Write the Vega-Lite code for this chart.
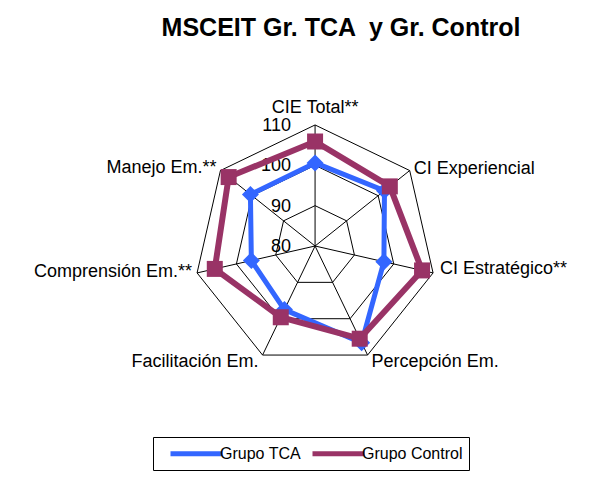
{
  "$schema": "https://vega.github.io/schema/vega-lite/v6.json",
  "width": 612,
  "height": 418,
  "autosize": "none",
  "padding": {"top": 60, "left": 0, "right": 0, "bottom": 0},
  "background": "white",
  "config": {"view": {"stroke": null}, "font": "Liberation Sans"},
  "title": {"text": "MSCEIT Gr. TCA \u00a0y Gr. Control", "fontSize": 25, "fontWeight": "bold", "font": "Liberation Sans", "color": "#000000", "dx": 35, "offset": -1, "baseline": "alphabetic", "anchor": "middle"},
  "datasets": {
    "scores": [
      {"cat": "CIE Total**", "k": 0, "group": "Grupo TCA", "value": 100.6},
      {"cat": "CI Experiencial", "k": 1, "group": "Grupo TCA", "value": 102.0},
      {"cat": "CI Estratégico**", "k": 2, "group": "Grupo TCA", "value": 97.5},
      {"cat": "Percepción Em.", "k": 3, "group": "Grupo TCA", "value": 106.6},
      {"cat": "Facilitación Em.", "k": 4, "group": "Grupo TCA", "value": 97.5},
      {"cat": "Comprensión Em.**", "k": 5, "group": "Grupo TCA", "value": 96.2},
      {"cat": "Manejo Em.**", "k": 6, "group": "Grupo TCA", "value": 100.5},
      {"cat": "CIE Total**", "k": 0, "group": "Grupo Control", "value": 105.9},
      {"cat": "CI Experiencial", "k": 1, "group": "Grupo Control", "value": 103.7},
      {"cat": "CI Estratégico**", "k": 2, "group": "Grupo Control", "value": 107.2},
      {"cat": "Percepción Em.", "k": 3, "group": "Grupo Control", "value": 105.5},
      {"cat": "Facilitación Em.", "k": 4, "group": "Grupo Control", "value": 99.6},
      {"cat": "Comprensión Em.**", "k": 5, "group": "Grupo Control", "value": 105.5},
      {"cat": "Manejo Em.**", "k": 6, "group": "Grupo Control", "value": 107.4}
    ],
    "cats": [
      {"cat": "CIE Total**", "k": 0},
      {"cat": "CI Experiencial", "k": 1},
      {"cat": "CI Estratégico**", "k": 2},
      {"cat": "Percepción Em.", "k": 3},
      {"cat": "Facilitación Em.", "k": 4},
      {"cat": "Comprensión Em.**", "k": 5},
      {"cat": "Manejo Em.**", "k": 6}
    ],
    "grid": [
      {"level": 90, "k": 0}, {"level": 90, "k": 1}, {"level": 90, "k": 2}, {"level": 90, "k": 3}, {"level": 90, "k": 4}, {"level": 90, "k": 5}, {"level": 90, "k": 6},
      {"level": 100, "k": 0}, {"level": 100, "k": 1}, {"level": 100, "k": 2}, {"level": 100, "k": 3}, {"level": 100, "k": 4}, {"level": 100, "k": 5}, {"level": 100, "k": 6},
      {"level": 110, "k": 0}, {"level": 110, "k": 1}, {"level": 110, "k": 2}, {"level": 110, "k": 3}, {"level": 110, "k": 4}, {"level": 110, "k": 5}, {"level": 110, "k": 6}
    ],
    "ticks": [
      {"level": 80, "lbl": "80"},
      {"level": 90, "lbl": "90"},
      {"level": 100, "lbl": "100"},
      {"level": 110, "lbl": "110"}
    ]
  },
  "layer": [
    {
      "data": {"name": "grid"},
      "transform": [
        {"calculate": "datum.k*2*PI/7", "as": "a"},
        {"calculate": "(datum.level-80)*sin(datum.a)", "as": "px"},
        {"calculate": "(datum.level-80)*cos(datum.a)", "as": "py"}
      ],
      "mark": {"type": "line", "interpolate": "linear-closed", "color": "#000000", "strokeWidth": 1},
      "encoding": {
        "x": {"field": "px", "type": "quantitative", "scale": {"domain": [-78.1, 73.6], "nice": false, "zero": false}, "axis": null},
        "y": {"field": "py", "type": "quantitative", "scale": {"domain": [-57.5, 46.1], "nice": false, "zero": false}, "axis": null},
        "detail": {"field": "level", "type": "nominal"},
        "order": {"field": "k", "type": "quantitative"}
      }
    },
    {
      "data": {"name": "cats"},
      "transform": [
        {"calculate": "datum.k*2*PI/7", "as": "a"},
        {"calculate": "30*sin(datum.a)", "as": "ox"},
        {"calculate": "30*cos(datum.a)", "as": "oy"},
        {"calculate": "0", "as": "z"}
      ],
      "mark": {"type": "rule", "color": "#000000", "strokeWidth": 1},
      "encoding": {
        "x": {"field": "z", "type": "quantitative", "scale": {"domain": [-78.1, 73.6], "nice": false, "zero": false}, "axis": null},
        "y": {"field": "z", "type": "quantitative", "scale": {"domain": [-57.5, 46.1], "nice": false, "zero": false}, "axis": null},
        "x2": {"field": "ox"},
        "y2": {"field": "oy"}
      }
    },
    {
      "data": {"name": "ticks"},
      "transform": [{"calculate": "datum.level-80", "as": "r"}, {"calculate": "0", "as": "z"}],
      "mark": {"type": "text", "align": "right", "baseline": "middle", "dx": -24, "dy": 1, "fontSize": 18, "font": "Liberation Sans", "color": "#000000"},
      "encoding": {
        "x": {"field": "z", "type": "quantitative", "scale": {"domain": [-78.1, 73.6], "nice": false, "zero": false}, "axis": null},
        "y": {"field": "r", "type": "quantitative", "scale": {"domain": [-57.5, 46.1], "nice": false, "zero": false}, "axis": null},
        "text": {"field": "lbl", "type": "nominal"}
      }
    },
    {
      "data": {"name": "cats"},
      "transform": [
        {"calculate": "datum.k*2*PI/7", "as": "a"},
        {"calculate": "30*sin(datum.a)", "as": "ox"},
        {"calculate": "30*cos(datum.a)", "as": "oy"}
      ],
      "mark": {
        "type": "text",
        "baseline": "middle",
        "fontSize": 18,
        "font": "Liberation Sans",
        "color": "#000000",
        "align": {"expr": "datum.k==0 ? 'center' : (datum.k<=3 ? 'left' : 'right')"},
        "dx": {"expr": "[0,4,7,4,-4,-5,-4][datum.k]"},
        "dy": {"expr": "[-17,-2,-4,7,7,-1,-3][datum.k]"}
      },
      "encoding": {
        "x": {"field": "ox", "type": "quantitative", "scale": {"domain": [-78.1, 73.6], "nice": false, "zero": false}, "axis": null},
        "y": {"field": "oy", "type": "quantitative", "scale": {"domain": [-57.5, 46.1], "nice": false, "zero": false}, "axis": null},
        "text": {"field": "cat", "type": "nominal"}
      }
    },
    {
      "data": {"name": "scores"},
      "transform": [
        {"filter": "datum.group == 'Grupo TCA'"},
        {"calculate": "datum.k*2*PI/7", "as": "a"},
        {"calculate": "(datum.value-80)*sin(datum.a)", "as": "px"},
        {"calculate": "(datum.value-80)*cos(datum.a)", "as": "py"}
      ],
      "mark": {"type": "line", "interpolate": "linear-closed", "strokeWidth": 5},
      "encoding": {
        "x": {"field": "px", "type": "quantitative", "scale": {"domain": [-78.1, 73.6], "nice": false, "zero": false}, "axis": null},
        "y": {"field": "py", "type": "quantitative", "scale": {"domain": [-57.5, 46.1], "nice": false, "zero": false}, "axis": null},
        "order": {"field": "k", "type": "quantitative"},
        "color": {
          "field": "group", "type": "nominal",
          "scale": {"domain": ["Grupo TCA", "Grupo Control"], "range": ["#3366FF", "#993366"]},
          "legend": {
            "orient": "none", "legendX": 153, "legendY": 377, "direction": "horizontal", "title": null,
            "strokeColor": "#000000", "padding": 6, "fillColor": "white",
            "symbolType": "M-3.25,0H3.25", "symbolSize": 256, "symbolStrokeWidth": 5, "symbolOffset": 27,
            "labelOffset": 13, "labelFontSize": 16, "labelFont": "Liberation Sans", "labelColor": "#000000",
            "columnPadding": -13
          }
        }
      }
    },
    {
      "data": {"name": "scores"},
      "transform": [
        {"filter": "datum.group == 'Grupo TCA'"},
        {"calculate": "datum.k*2*PI/7", "as": "a"},
        {"calculate": "(datum.value-80)*sin(datum.a)", "as": "px"},
        {"calculate": "(datum.value-80)*cos(datum.a)", "as": "py"}
      ],
      "mark": {"type": "point", "shape": "diamond", "filled": true, "size": 289, "color": "#3366FF", "opacity": 1},
      "encoding": {
        "x": {"field": "px", "type": "quantitative", "scale": {"domain": [-78.1, 73.6], "nice": false, "zero": false}, "axis": null},
        "y": {"field": "py", "type": "quantitative", "scale": {"domain": [-57.5, 46.1], "nice": false, "zero": false}, "axis": null}
      }
    },
    {
      "data": {"name": "scores"},
      "transform": [
        {"filter": "datum.group == 'Grupo Control'"},
        {"calculate": "datum.k*2*PI/7", "as": "a"},
        {"calculate": "(datum.value-80)*sin(datum.a)", "as": "px"},
        {"calculate": "(datum.value-80)*cos(datum.a)", "as": "py"}
      ],
      "mark": {"type": "line", "interpolate": "linear-closed", "strokeWidth": 6},
      "encoding": {
        "x": {"field": "px", "type": "quantitative", "scale": {"domain": [-78.1, 73.6], "nice": false, "zero": false}, "axis": null},
        "y": {"field": "py", "type": "quantitative", "scale": {"domain": [-57.5, 46.1], "nice": false, "zero": false}, "axis": null},
        "order": {"field": "k", "type": "quantitative"},
        "color": {"field": "group", "type": "nominal"}
      }
    },
    {
      "data": {"name": "scores"},
      "transform": [
        {"filter": "datum.group == 'Grupo Control'"},
        {"calculate": "datum.k*2*PI/7", "as": "a"},
        {"calculate": "(datum.value-80)*sin(datum.a)", "as": "px"},
        {"calculate": "(datum.value-80)*cos(datum.a)", "as": "py"}
      ],
      "mark": {"type": "point", "shape": "square", "filled": true, "size": 256, "color": "#993366", "opacity": 1},
      "encoding": {
        "x": {"field": "px", "type": "quantitative", "scale": {"domain": [-78.1, 73.6], "nice": false, "zero": false}, "axis": null},
        "y": {"field": "py", "type": "quantitative", "scale": {"domain": [-57.5, 46.1], "nice": false, "zero": false}, "axis": null}
      }
    }
  ]
}
